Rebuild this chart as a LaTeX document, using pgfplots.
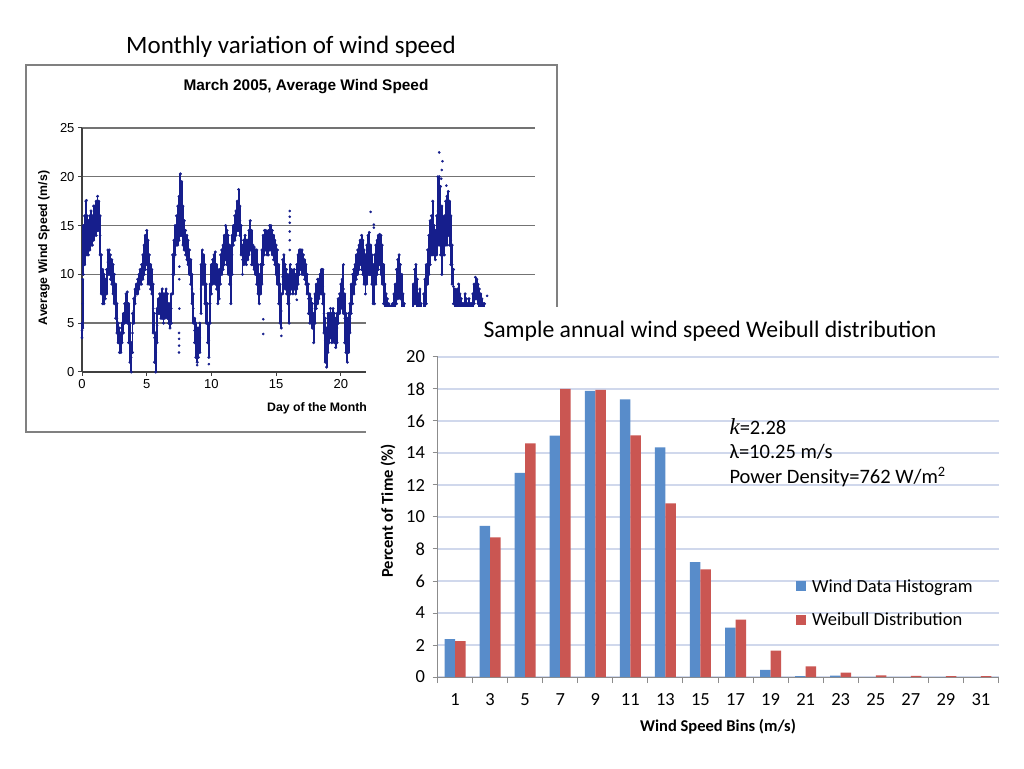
\documentclass[border=0pt]{standalone}
\usepackage{pgfplots}
\pgfplotsset{compat=1.18}
\usepackage{fontspec}
\setmainfont{Carlito}
\newfontfamily\arial{Liberation Sans}
\newfontfamily\serif{Liberation Serif}
\definecolor{navy}{RGB}{22,30,140}
\definecolor{barblue}{RGB}{88,140,202}
\definecolor{barred}{RGB}{202,86,82}
\definecolor{gridblue}{RGB}{208,216,236}
\pgfplotstableread[row sep=\\]{
x y e\\
0.0 4.25 0.75\\
0.05 7 2.5\\
0.1 12.5 2.5\\
0.2 13.5 2.5\\
0.3 14.75 2.75\\
0.4 14 2\\
0.5 13.75 1.75\\
0.6 14.25 1.75\\
0.7 14.75 1.75\\
0.8 14.5 1.5\\
0.9 15.25 1.75\\
1.0 15.5 1.5\\
1.1 15.75 1.75\\
1.2 16.25 1.75\\
1.3 16 1.5\\
1.4 14 2\\
1.5 10 2\\
1.6 8.75 1.75\\
1.7 8.5 1.5\\
1.8 8.5 1\\
1.9 9.25 1.25\\
2.0 11.25 1.25\\
2.1 11.25 1.25\\
2.2 10.75 1.25\\
2.3 10.25 1.25\\
2.4 9.5 1.5\\
2.5 8.5 1.5\\
2.6 7.25 1.75\\
2.7 5.5 1.5\\
2.8 4 1\\
2.9 3.25 1.25\\
3.0 3 1\\
3.1 4 1\\
3.2 5 1\\
3.3 6 1\\
3.4 6.75 1.25\\
3.5 6.6 1.6\\
3.6 5 2\\
3.7 3 2\\
3.8 1.5 1.5\\
3.9 4 2\\
4.0 6.25 1.25\\
4.1 7.75 0.75\\
4.2 8.5 0.5\\
4.3 8.75 0.75\\
4.4 9.25 0.75\\
4.5 9.75 0.75\\
4.6 10 1\\
4.7 10.75 1.25\\
4.8 11.5 1.5\\
4.9 12.25 1.75\\
5.0 12.75 1.75\\
5.1 11.25 2.25\\
5.2 10.5 1.5\\
5.3 9.75 1.25\\
5.4 9.25 1.25\\
5.5 6.5 2.5\\
5.6 3.5 2.5\\
5.7 2 2\\
5.8 4.75 1.75\\
5.9 6.75 0.75\\
6.0 7 1\\
6.1 6.75 1.25\\
6.2 7 1.5\\
6.3 6.5 1.5\\
6.4 6.75 1.25\\
6.5 7.25 1.25\\
6.6 6.75 1.25\\
6.7 6 1\\
6.8 5.75 1.25\\
6.9 6.5 1.5\\
7.0 10 2\\
7.1 11.75 1.75\\
7.2 13.5 1.5\\
7.3 14.5 1.5\\
7.4 15 2\\
7.5 15.75 2.25\\
7.6 17.15 3.15\\
7.7 16.75 2.75\\
7.8 15 2\\
7.9 14 1.5\\
8.0 13.25 1.25\\
8.1 12.75 1.25\\
8.2 12.25 1.25\\
8.3 11.25 1.25\\
8.4 10.25 1.25\\
8.5 8.5 1.5\\
8.6 6.5 1.5\\
8.7 4.25 1.25\\
8.8 3.25 1.75\\
8.9 2.75 1.75\\
9.0 3 1.5\\
9.1 3.5 1.5\\
9.2 8.5 2.5\\
9.3 10.75 1.75\\
9.4 10.5 1.5\\
9.5 9 2\\
9.6 7 2\\
9.7 5 2\\
9.8 3.25 1.75\\
9.9 7 2\\
10.0 9.5 1.5\\
10.1 10.25 1.25\\
10.2 10.75 1.25\\
10.3 10.65 1.65\\
10.4 9.75 1.25\\
10.5 8.5 1.5\\
10.6 9 1.5\\
10.7 10.5 1.5\\
10.8 11.25 1.25\\
10.9 11.75 1.25\\
11.0 12.5 1.5\\
11.1 13.25 1.75\\
11.2 12.75 1.75\\
11.3 12 2\\
11.4 11 2\\
11.5 9 2\\
11.6 12 2\\
11.7 14 1\\
11.8 14.75 1.25\\
11.9 15.25 1.25\\
12.0 16 1.5\\
12.1 16.6 2.1\\
12.2 15.5 1.5\\
12.3 13.5 1.5\\
12.4 11.5 1.5\\
12.5 12.25 1.25\\
12.6 12.75 1.25\\
12.7 12.25 1.25\\
12.8 12.5 1\\
12.9 13.25 1.25\\
13.0 14 1.5\\
13.1 12.75 1.75\\
13.2 12 1\\
13.3 11.65 1.15\\
13.4 11.25 1.25\\
13.5 10.75 1.75\\
13.6 9.5 1.5\\
13.7 8.5 1.5\\
13.8 9.5 1.5\\
13.9 10.75 1.75\\
14.0 12.5 1.5\\
14.1 13.25 1.25\\
14.2 13.5 1\\
14.3 13 1\\
14.4 13.25 1.25\\
14.5 13.75 1.25\\
14.6 13.75 1.25\\
14.7 13.25 1.25\\
14.8 12.75 1.25\\
14.9 12.25 1.25\\
15.0 11.5 1.5\\
15.1 10.75 1.75\\
15.2 9 2\\
15.3 7 2\\
15.4 6.25 1.75\\
15.5 9.75 1.75\\
15.6 10.5 1.5\\
15.7 9.75 1.25\\
15.8 9.25 1.25\\
15.9 8.5 1.5\\
16.0 7 2\\
16.1 9.5 1.5\\
16.2 9.5 1\\
16.3 9 1\\
16.4 9.5 1\\
16.5 9 1\\
16.6 9.75 1.25\\
16.7 10.5 1.5\\
16.8 11.25 1.25\\
16.9 11.5 1\\
17.0 11.25 1.25\\
17.1 11 1\\
17.2 10.5 1\\
17.3 10 1\\
17.4 9 1\\
17.5 7.5 1.5\\
17.6 6.5 1.5\\
17.7 6.25 1.25\\
17.8 5.75 1.25\\
17.9 4.5 1.5\\
18.0 6.5 1.5\\
18.1 7.75 1.25\\
18.2 8.25 1.25\\
18.3 8.5 1\\
18.4 9 1\\
18.5 9.25 1.25\\
18.6 8.75 1.75\\
18.7 6 2\\
18.8 3.25 2.25\\
18.9 2.5 2\\
19.0 4 2\\
19.1 4.5 1.5\\
19.2 5 1.5\\
19.3 4.5 1.5\\
19.4 5 1.5\\
19.5 4.5 1.5\\
19.6 4 1.5\\
19.7 4.5 1.5\\
19.8 6.25 1.25\\
19.9 7 1\\
20.0 7.75 1.25\\
20.1 8.25 1.25\\
20.2 8.5 2.5\\
20.3 5.5 2.5\\
20.4 4 2\\
20.5 3.25 2.25\\
20.6 4 2\\
20.7 5.5 1.5\\
20.8 7.5 1.5\\
20.9 8.5 1.5\\
21.0 9.25 1.25\\
21.1 10 1\\
21.2 10.75 1.25\\
21.3 11.25 1.25\\
21.4 11.75 1.25\\
21.5 12.25 1.25\\
21.6 12.25 1.75\\
21.7 11.75 1.75\\
21.8 10.75 1.75\\
21.9 10 2\\
22.0 11 2\\
22.1 12 2\\
22.2 12.15 2.15\\
22.3 11.5 1.5\\
22.4 10.5 1.5\\
22.5 9 2\\
22.6 9.5 2.5\\
22.7 11 2\\
22.8 11.75 1.75\\
22.9 12.25 1.75\\
23.0 12.55 1.55\\
23.1 12 2\\
23.2 11 2\\
23.3 9 2\\
23.4 7.5 1.5\\
23.5 6.5 1.5\\
23.6 6.25 1.25\\
23.7 5.5 1.5\\
23.8 5.25 1.25\\
23.9 5.4 1.4\\
24.0 5.5 1.5\\
24.1 6.5 1.5\\
24.2 7.5 1.5\\
24.3 8.75 1.75\\
24.4 9.5 2\\
24.5 10 2\\
24.6 9.25 1.75\\
24.7 8 2\\
24.8 6.5 1.5\\
24.9 5.5 1.5\\
25.0 4.5 1.5\\
25.6 7.5 1.5\\
25.7 8.75 1.75\\
25.8 9 2\\
25.9 7.75 1.75\\
26.0 6.5 1.5\\
26.1 6.75 1.75\\
26.2 5.5 1.5\\
26.3 5.25 1.25\\
26.4 6.5 1.5\\
26.5 7.75 1.75\\
26.6 9 2\\
26.7 10.75 1.75\\
26.8 12 2\\
26.9 13.25 2.25\\
27.0 14 2\\
27.1 14.75 2.75\\
27.2 13.5 1.5\\
27.3 13 1.5\\
27.4 14 2\\
27.5 16.5 3.5\\
27.6 16.5 3.5\\
27.7 15.5 3.5\\
27.8 13.5 3.5\\
27.9 13.5 1.5\\
28.0 14 2\\
28.1 15.25 2.25\\
28.2 15.5 2.5\\
28.3 16.25 2.25\\
28.4 15.25 2.25\\
28.5 13.5 2.5\\
28.6 11 2\\
28.7 8.75 1.75\\
28.8 7.25 1.25\\
28.9 7 1\\
29.0 7.5 1\\
29.1 7.5 1.5\\
29.2 6.75 1.25\\
29.3 6.25 1.25\\
29.4 6 1\\
29.5 6 1\\
29.6 6.75 1.25\\
29.7 6.5 1\\
29.8 6 1\\
29.9 6.25 1.25\\
30.0 5.75 1.25\\
30.1 6 1\\
30.2 7 1\\
30.3 8 1\\
30.4 8.6 1.1\\
30.5 8.5 1\\
30.6 8 1\\
30.7 7.5 1\\
30.8 7 1\\
30.9 6.75 0.75\\
31.0 6.25 0.75\\
31.1 6.25 0.75\\
}\windtable
\begin{document}
\begin{tikzpicture}
\path[use as bounding box, fill=white] (0pt,0pt) rectangle (1024pt,768pt);
\coordinate (LA) at (82pt,396pt);
\coordinate (RA) at (437.5pt,91pt);
% ---------------- left panel
\node[font=\fontsize{25}{29}\selectfont] at (291pt,721pt) {Monthly variation of wind speed};
\draw[black!50, line width=1.3pt] (26pt,703pt) rectangle (557pt,336pt);
\node[font=\arial\bfseries\fontsize{15.4}{18}\selectfont] at (306pt,681pt) {March 2005, Average Wind Speed};
\node[font=\arial\bfseries\fontsize{12.3}{14}\selectfont] at (317pt,360pt) {Day of the Month};
\node[font=\arial\bfseries\fontsize{12.3}{14}\selectfont, rotate=90] at (44pt,520pt) {Average Wind Speed (m/s)};
\begin{axis}[
  at={(LA)}, anchor=south west,
  scale only axis, width=453pt, height=244pt,
  xmin=0, xmax=35, ymin=0, ymax=25,
  xtick={0,5,10,15,20}, ytick={0,5,...,25},
  axis x line=bottom, axis y line=left,
  axis line style={-, black!75, line width=1.2pt},
  tick align=outside, major tick length=4pt,
  tick style={black!75, line width=1pt},
  ymajorgrids, grid style={black!55, line width=1.4pt},
  ticklabel style={font=\arial\fontsize{13}{15}\selectfont},
  /pgf/number format/assume math mode=true,
  clip=false,
]
\addplot[only marks, mark=*, mark size=1.1pt, navy,
  error bars/.cd, y dir=both, y explicit,
  error bar style={line width=1.9pt, navy}, error mark=*,
  error mark options={navy, mark size=1.3pt}]
  table[x=x, y=y, y error=e] {\windtable};
\addplot[only marks, mark=*, mark size=1.1pt, navy] coordinates {
(0.35,17.6) (7.5,2.0) (7.5,2.7) (7.5,3.4) (7.5,4.0) (7.52,6.5) (7.52,9.5) (7.52,10.8)
(14.0,5.4) (14.0,3.9) (16.05,16.5) (16.05,15.9) (16.05,15.3) (16.05,14.4) (16.05,13.5) (16.05,12.5)
(15.4,3.7) (16.6,7.4) (8.9,0.7) (9.8,0.8) (22.3,16.4) (22.55,15.1) (22.55,14.8)
(27.6,22.5) (27.85,21.6) (27.8,20.7) (27.75,19.8) (28.15,19.1) (31.3,7.8)
};
\end{axis}
% ---------------- overlay panel
\fill[white] (366pt,0pt) rectangle (1024pt,461pt);
\node[font=\fontsize{23.7}{28}\selectfont] at (710pt,437pt) {Sample annual wind speed Weibull distribution};
\node[font=\bfseries\fontsize{16.5}{20}\selectfont] at (718pt,41pt) {Wind Speed Bins (m/s)};
\node[font=\bfseries\fontsize{16.5}{20}\selectfont, rotate=90] at (388pt,257pt) {Percent of Time (\%)};
\begin{axis}[
  at={(RA)}, anchor=south west,
  scale only axis, width=561pt, height=320pt,
  xmin=-0.5, xmax=15.5, ymin=0, ymax=20,
  xtick={0,...,15}, xticklabels={1,3,5,7,9,11,13,15,17,19,21,23,25,27,29,31},
  minor xtick={-0.5,0.5,...,15.5},
  ytick={0,2,...,20},
  axis x line=bottom, axis y line=left,
  axis line style={-, black!45, line width=1pt},
  tick align=outside,
  major x tick style={draw=none},
  minor tick length=6pt, major tick length=5pt,
  tick style={black!45, line width=1pt},
  ymajorgrids, grid style={gridblue, line width=1.1pt},
  ticklabel style={font=\fontsize{18.5}{21}\selectfont},
  xticklabel style={yshift=-8pt},
  yticklabel style={xshift=-4pt},
  /pgf/number format/assume math mode=true,
  ybar=0pt, bar width=10.5pt,
  legend style={at={(0.639,0.231)}, anchor=west, draw=none, fill=none,
    inner sep=0pt, row sep=15pt, font=\fontsize{18.5}{21}\selectfont,
    /tikz/every odd column/.append style={column sep=4pt}},
  legend cell align=left,
  legend image code/.code={\fill[#1] (0pt,-5pt) rectangle (10pt,5pt);},
  clip=false,
]
\addplot[fill=barblue, draw=none] coordinates {
(0,2.36) (1,9.44) (2,12.75) (3,15.08) (4,17.88) (5,17.35) (6,14.35) (7,7.18)
(8,3.09) (9,0.44) (10,0.06) (11,0.08) (12,0) (13,0) (14,0) (15,0)};
\addplot[fill=barred, draw=none] coordinates {
(0,2.25) (1,8.73) (2,14.6) (3,18.0) (4,17.95) (5,15.1) (6,10.85) (7,6.72)
(8,3.59) (9,1.65) (10,0.67) (11,0.27) (12,0.1) (13,0.07) (14,0.06) (15,0.06)};
\legend{Wind Data Histogram, Weibull Distribution}
\end{axis}
\node[anchor=west, font=\fontsize{20.5}{24}\selectfont] at (726pt,341pt) {{\serif\itshape\fontsize{23}{24}\selectfont k}=2.28};
\node[anchor=west, font=\fontsize{20.5}{24}\selectfont] at (726pt,316pt) {λ=10.25 m/s};
\node[anchor=west, font=\fontsize{20.5}{24}\selectfont] at (726pt,291pt) {Power Density=762 W/m\textsuperscript{2}};
\end{tikzpicture}
\end{document}
